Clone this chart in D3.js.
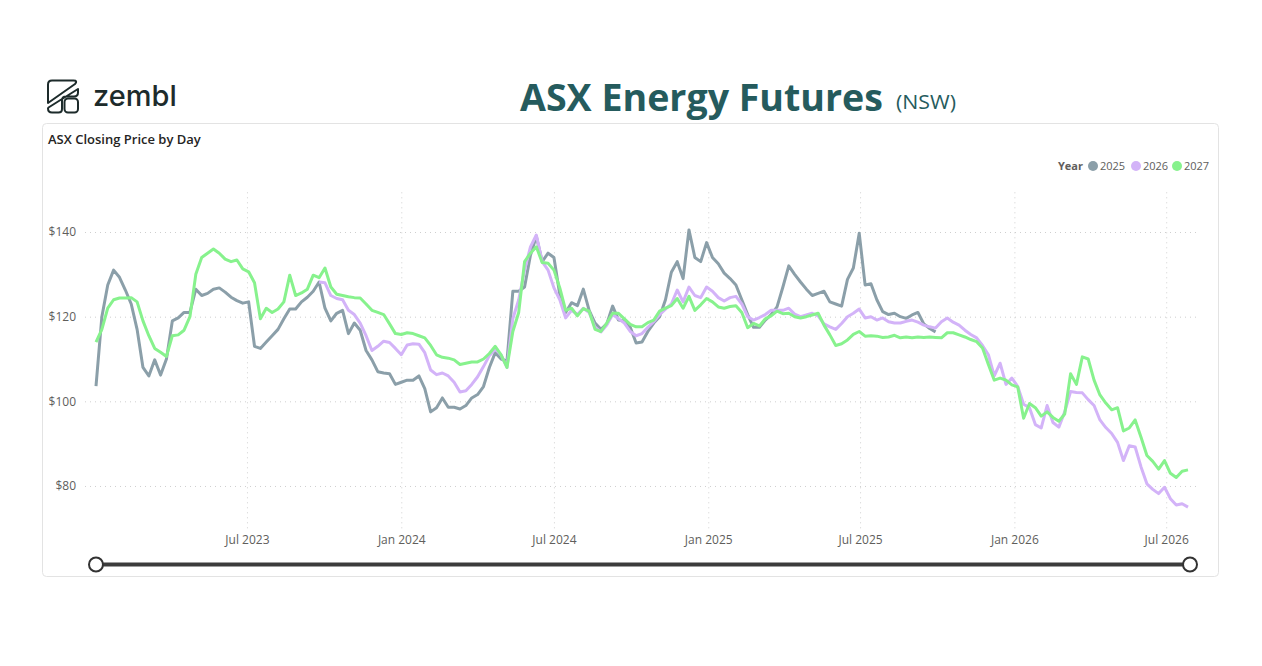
<!DOCTYPE html>
<html>
<head>
<meta charset="utf-8">
<script src="https://cdn.jsdelivr.net/npm/d3@7"></script>
<style>
  body { margin: 0; background: #fff; }
  svg text { font-family: "Segoe UI", "Open Sans", sans-serif; }
</style>
</head>
<body>
<div id="chart"></div>
<script>
// weekly closing prices (Monday of each week), one array per contract year
var years = ["2025", "2026", "2027"];
var seriesStart = ["2023-01-02", "2023-09-25", "2023-01-02"];

var values2025 = [
  103.6, 120, 127.5, 131, 129.3, 126.3, 123, 117, 108, 106,
  109.8, 106.2, 110, 119, 119.7, 121, 121, 126.5, 125, 125.5,
  126.5, 126.8, 125.8, 124.6, 123.8, 123.2, 123.5, 113, 112.5, 114,
  115.5, 117, 119.5, 121.8, 121.8, 123.5, 124.6, 126, 128.2, 122,
  119, 120.8, 121.5, 116, 118.5, 116.8, 112, 109.8, 107, 106.7,
  106.5, 104, 104.5, 105, 105, 106, 103, 97.5, 98.5, 100.8,
  98.6, 98.6, 98.2, 99, 100.8, 101.6, 103.5, 108, 111.5, 110,
  109.5, 126, 126, 127, 134.5, 139, 133, 135, 134, 125.2,
  121, 123.3, 122.6, 126.5, 121.5, 118.5, 117, 118.3, 122.5, 119.2,
  119, 117.5, 113.8, 114, 116.5, 118.5, 120, 124, 130.5, 133,
  129, 140.5, 134, 133, 137.5, 134, 132.5, 130.3, 129, 127.5,
  124, 120.5, 117.5, 117.5, 119.2, 120.5, 122.3, 127, 132, 130,
  128.2, 126.5, 125, 125.5, 126, 123.5, 123, 122.5, 128.8, 131.5,
  139.7, 127.5, 127.8, 124, 121.2, 120.5, 120.8, 120, 119.6, 120.4,
  121, 118.3, 117.2, 116.4
];

var values2026 = [
  128.2, 128,
  125, 124.3, 124, 121.5, 120.5, 118.5, 115.5, 112, 113, 114.2,
  113.9, 112.5, 111, 113.3, 113.6, 113.5, 111.5, 107.4, 106.3, 106.7,
  106, 104.5, 102.2, 102.5, 104, 105.8, 108.2, 110.8, 112.3, 111,
  108, 119.5, 124, 131, 136.5, 139.3, 133, 131, 126.8, 124,
  119.7, 121.5, 120.5, 122, 121, 117.5, 116.4, 118, 120.5, 119.5,
  118.5, 116.5, 115.5, 116, 117.5, 118.8, 120.5, 121.8, 123, 126.3,
  123.5, 127, 125, 124.5, 127, 126, 124.5, 123.7, 124.5, 124.8,
  123, 120, 119.2, 119.8, 120.5, 121.5, 121.5, 121.5, 122, 120.6,
  120, 120.4, 120.8, 120.2, 118.3, 117.6, 117, 118.4, 120, 120.8,
  121.8, 119.7, 120, 119.2, 119.7, 118.8, 118.5, 118.5, 118.9, 119.2,
  118.7, 118, 117.6, 117.3, 118.8, 119.7, 118.7, 118, 116.8, 115.8,
  115, 113.2, 111, 106, 109, 104, 105.5, 103.5, 99.3, 98.5,
  94.5, 93.7, 99, 95, 93.9, 97.5, 102.3, 102.1, 102, 100.4,
  99, 95.6, 93.8, 92.4, 90.3, 86, 89.5, 89.2, 84.5, 80.5,
  79.2, 78.2, 79.7, 77, 75.5, 75.8, 75
];

var values2027 = [
  114, 117, 122, 124, 124.4, 124.4, 124.5, 123.5, 119, 115.5,
  112.5, 111.6, 110.6, 115.5, 115.7, 116.8, 120, 130, 134, 135,
  136, 135, 133.6, 133, 133.4, 131.3, 130.6, 128, 119.5, 122,
  121, 121.8, 123.5, 129.8, 125, 125.6, 126.5, 129.8, 129.2, 131.5,
  127, 125.3, 125, 124.7, 124.5, 124.4, 123, 121.5, 121, 120.5,
  118.3, 116, 115.8, 116.2, 116, 115.5, 115, 113.2, 111, 110.4,
  110.2, 109.8, 108.7, 109, 109.3, 109.3, 110, 111.3, 113, 111,
  108, 116.5, 121, 133, 135, 136.5, 132.8, 132.6, 131, 126.8,
  121.5, 122, 120.2, 121.9, 121.3, 117, 116.5, 118.5, 120.8, 120.8,
  119.5, 118.2, 117.6, 117.6, 118.6, 119.2, 121.3, 122, 122.6, 124.3,
  122, 124.8, 121.5, 122.8, 124.3, 123.5, 122.3, 122, 122.4, 122.6,
  121, 117.4, 118.4, 117.8, 119.5, 120.2, 121.3, 120.7, 120.8, 120,
  119.7, 120, 120.4, 120.8, 118, 115.7, 113.2, 113.6, 114.5, 115.8,
  116.5, 115.4, 115.5, 115.4, 115.1, 115.2, 115.6, 115, 115.2, 115,
  115.2, 115.1, 115.2, 115.1, 115, 116.2, 116.2, 115.7, 115.2, 114.6,
  114.1, 112.6, 108.7, 105, 105.5, 105, 103.9, 103.4, 96, 99.5,
  98.5, 96.5, 97.5, 96.2, 95.3, 97, 106.5, 104, 110.5, 110,
  105, 101.5, 99.6, 98, 98.5, 93, 93.7, 95.6, 91.5, 87.2,
  85.8, 84, 86, 83, 82, 83.5, 83.8
];

var yTicks = [80, 100, 120, 140];
var colors = ["#8b9fa9", "#d3b3f8", "#87f28d"];

var width = 1262, height = 666;
var plotLeft = 96, plotRight = 1188, plotTop = 189.7, plotBottom = 528.3;
var svg, xScale, yScale;

var parseDate = d3.timeParse("%Y-%m-%d");

function buildSeries() {
  var vals = [values2025, values2026, values2027];
  return years.map(function(y, k) {
    var start = parseDate(seriesStart[k]);
    return {
      year: y,
      color: colors[k],
      points: vals[k].map(function(v, i) {
        return { date: d3.timeMonday.offset(start, i), value: v };
      })
    };
  });
}

function init() {
  svg = d3.select("#chart")
    .append("svg")
    .attr("width", width)
    .attr("height", height);

  drawHeader();
  drawCard();
  drawChart(buildSeries());
}

function drawHeader() {
  // zembl logo
  var logo = svg.append("g")
    .attr("fill", "none")
    .attr("stroke", "#1d2b2b")
    .attr("stroke-width", 2)
    .attr("stroke-linejoin", "round");
  logo.append("path")
    .attr("d", "M48,103 V84.5 Q48,80.5 52,80.5 H73.5 Q78,80.5 75,84 Z");
  logo.append("path")
    .attr("d", "M48,108.5 Q48,112.5 52,112.5 H58.5 Q62,112.5 62,109 V100.5 Q62,96.5 66,96.5 H74 Q78,96.5 78,92.5 V89 L48.5,107.5 Z");
  logo.append("rect")
    .attr("x", 64.5).attr("y", 98.5)
    .attr("width", 13.5).attr("height", 14)
    .attr("rx", 3.5);

  svg.append("text")
    .attr("x", 93)
    .attr("y", 106)
    .style("font-family", "Inter, sans-serif")
    .style("font-size", "29px")
    .style("font-weight", 500)
    .attr("fill", "#1d2b2b")
    .text("zembl");

  // page title
  svg.append("text")
    .attr("x", 520)
    .attr("y", 111)
    .attr("textLength", 363)
    .attr("lengthAdjust", "spacingAndGlyphs")
    .style("font-size", "37px")
    .style("font-weight", 700)
    .attr("fill", "#255b5d")
    .text("ASX Energy Futures");

  svg.append("text")
    .attr("x", 896)
    .attr("y", 109)
    .attr("textLength", 60)
    .attr("lengthAdjust", "spacingAndGlyphs")
    .style("font-size", "20px")
    .attr("fill", "#255b5d")
    .text("(NSW)");
}

function drawCard() {
  svg.append("rect")
    .attr("x", 42.5)
    .attr("y", 123.5)
    .attr("width", 1176)
    .attr("height", 453)
    .attr("rx", 4)
    .attr("fill", "none")
    .attr("stroke", "#e3e3e3");

  svg.append("text")
    .attr("x", 48)
    .attr("y", 144)
    .style("font-size", "13px")
    .style("font-weight", 600)
    .attr("fill", "#252423")
    .text("ASX Closing Price by Day");
}

function drawChart(series) {
  var allDates = [];
  series.forEach(function(s) {
    s.points.forEach(function(p) { allDates.push(p.date); });
  });

  xScale = d3.scaleTime()
    .domain(d3.extent(allDates))
    .range([plotLeft, plotRight]);

  yScale = d3.scaleLinear()
    .domain([70, 150])
    .range([plotBottom, plotTop]);

  // y axis + horizontal grid
  var yAxis = svg.append("g")
    .attr("class", "y-axis")
    .attr("transform", "translate(85,0)")
    .call(d3.axisLeft(yScale)
      .tickValues(yTicks)
      .tickSize(-(1197 - 85))
      .tickPadding(9)
      .tickFormat(function(d) { return "$" + d; }));
  yAxis.select(".domain").remove();
  yAxis.selectAll("line")
    .attr("stroke", "#cfcfcf")
    .attr("stroke-dasharray", "1,4");
  yAxis.selectAll("text")
    .style("font-size", "12px")
    .attr("fill", "#605e5c");

  // x axis + vertical grid
  var xAxis = svg.append("g")
    .attr("class", "x-axis")
    .attr("transform", "translate(0," + plotBottom + ")")
    .call(d3.axisBottom(xScale)
      .ticks(d3.timeMonth.every(6))
      .tickSize(-(plotBottom - plotTop))
      .tickPadding(7)
      .tickFormat(d3.timeFormat("%b %Y")));
  xAxis.select(".domain").remove();
  xAxis.selectAll("line")
    .attr("stroke", "#cfcfcf")
    .attr("stroke-dasharray", "1,4");
  xAxis.selectAll("text")
    .style("font-size", "12px")
    .attr("fill", "#605e5c");

  // lines
  var line = d3.line()
    .x(function(d) { return xScale(d.date); })
    .y(function(d) { return yScale(d.value); });

  svg.selectAll("path.series")
    .data(series)
    .enter().append("path")
    .attr("class", "series")
    .attr("fill", "none")
    .attr("stroke", function(d) { return d.color; })
    .attr("stroke-width", 3)
    .attr("stroke-linejoin", "round")
    .attr("d", function(d) { return line(d.points); });

  // legend
  svg.append("text")
    .attr("x", 1058)
    .attr("y", 170)
    .style("font-size", "11px")
    .style("font-weight", 700)
    .attr("fill", "#605e5c")
    .text("Year");

  var legendX = [1093, 1136, 1177];
  var items = svg.selectAll("g.legend-item")
    .data(series)
    .enter().append("g")
    .attr("class", "legend-item")
    .attr("transform", function(d, i) { return "translate(" + legendX[i] + ",166)"; });
  items.append("circle")
    .attr("r", 5)
    .attr("fill", function(d) { return d.color; });
  items.append("text")
    .attr("x", 7)
    .attr("y", 4)
    .style("font-size", "11px")
    .attr("fill", "#605e5c")
    .text(function(d) { return d.year; });

  // date range slider
  var sliderY = 564.5;
  svg.append("line")
    .attr("x1", plotLeft).attr("x2", 1190)
    .attr("y1", sliderY).attr("y2", sliderY)
    .attr("stroke", "#3c3c3c")
    .attr("stroke-width", 4);
  svg.selectAll("circle.handle")
    .data([plotLeft, 1190])
    .enter().append("circle")
    .attr("class", "handle")
    .attr("cx", function(d) { return d; })
    .attr("cy", sliderY)
    .attr("r", 7)
    .attr("fill", "#fff")
    .attr("stroke", "#333")
    .attr("stroke-width", 2);
}

window.onload = init;
</script>
</body>
</html>
